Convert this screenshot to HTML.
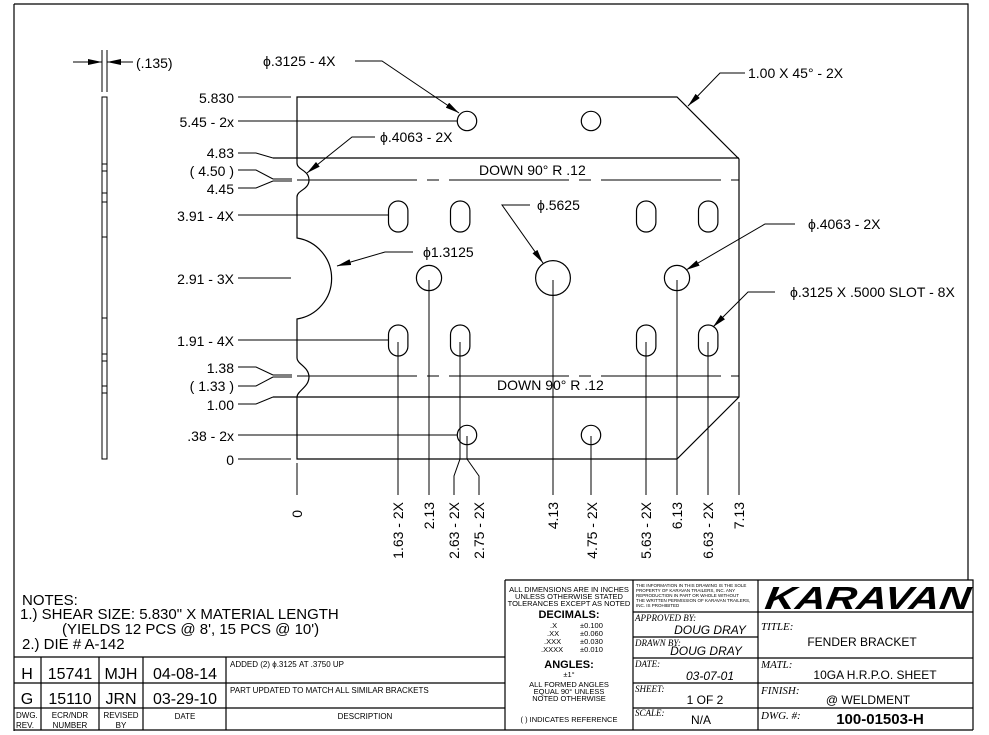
<!DOCTYPE html>
<html><head><meta charset="utf-8"><style>
html,body{margin:0;padding:0;background:#fff}
svg{display:block}
text{font-family:"Liberation Sans","DejaVu Sans",sans-serif;fill:#000}
</style></head><body>
<svg width="989" height="735" viewBox="0 0 989 735" xmlns="http://www.w3.org/2000/svg">
<defs>
<marker id="ar" markerWidth="14" markerHeight="6" refX="14" refY="3" orient="auto" markerUnits="userSpaceOnUse"><path d="M0 0 L14 3 L0 6 Z" fill="#000"/></marker>
</defs>
<g fill="none" stroke="#000" stroke-width="1.2">
<path d="M14 4 H968 V580 M14 4 V731"/>
<path d="M297 97 H677 L739 159 V397 L677 459 H297 V397 C297 391 309 387 309 377 C309 367 297 364 297 358 V319 A41 41 0 0 0 297 238 V197 C297 190 309 190 309 180 C309 170 297 170 297 163 Z"/>
<path d="M273 158 H739 M273 397 H739"/>
<path d="M273 179 H292 M273 181 H292 M273 375 H292 M273 377 H292" stroke-width="1"/>
<path d="M297 180 H739 M297 376 H739" stroke-dasharray="120,10,12,10" stroke-width="1"/>
<circle cx="467" cy="121" r="9.7"/><circle cx="591" cy="121" r="9.7"/>
<circle cx="467" cy="435" r="9.7"/><circle cx="591" cy="435" r="9.7"/>
<circle cx="429" cy="278" r="12.6"/><circle cx="677" cy="278" r="12.6"/>
<circle cx="553" cy="278" r="17.4"/>
<rect x="388.5" y="201" width="19.4" height="31" rx="9.7"/>
<rect x="450.5" y="201" width="19.4" height="31" rx="9.7"/>
<rect x="636.5" y="201" width="19.4" height="31" rx="9.7"/>
<rect x="698.5" y="201" width="19.4" height="31" rx="9.7"/>
<rect x="388.5" y="325" width="19.4" height="31" rx="9.7"/>
<rect x="450.5" y="325" width="19.4" height="31" rx="9.7"/>
<rect x="636.5" y="325" width="19.4" height="31" rx="9.7"/>
<rect x="698.5" y="325" width="19.4" height="31" rx="9.7"/>
</g>
<g fill="none" stroke="#000" stroke-width="1">
<path d="M238 97 H291 M238 121 H457 M238 153 H256 L273 158 M238 170 H256 L273 179 M238 188 H256 L273 181 M238 215 H388 M238 278 H291 M238 340 H388 M238 367 H256 L273 375 M238 386 H256 L273 377 M238 404 H256 L273 397 M238 435 H457 M238 459 H291"/>
<path d="M297 463 V495 M398 342 V495 M429 280 V495 M460 342 V459 L454 476 V495 M467 436 V459 L479 476 V495 M553 280 V495 M591 436 V495 M646 342 V495 M677 280 V495 M708 342 V495 M739 402 V495"/>
<path d="M355 61 H382 L459 113" marker-end="url(#ar)"/>
<path d="M375 137 H352 L307 173" marker-end="url(#ar)"/>
<path d="M413 252 H385 L337 266" marker-end="url(#ar)"/>
<path d="M530 205 H502 L543 263" marker-end="url(#ar)"/>
<path d="M795 224 H765 L686 270" marker-end="url(#ar)"/>
<path d="M775 292 H748 L713 327" marker-end="url(#ar)"/>
<path d="M745 73 H720 L688 106" marker-end="url(#ar)"/>
<rect x="102" y="97" width="5" height="362"/>
<path d="M102 164 H107 M102 171 H107 M102 193 H107 M102 202 H107 M102 237 H107 M102 318 H107 M102 354 H107 M102 361 H107 M102 386 H107 M102 393 H107"/>
<path d="M102 50 V92 M107 50 V92"/>
<path d="M73 62 H102" marker-end="url(#ar)"/>
<path d="M133 62 H107" marker-end="url(#ar)"/>
</g>
<g font-size="14" text-anchor="end">
<text x="234" y="103">5.830</text>
<text x="234" y="127">5.45 - 2x</text>
<text x="234" y="158">4.83</text>
<text x="234" y="176">( 4.50 )</text>
<text x="234" y="194">4.45</text>
<text x="234" y="221">3.91 - 4X</text>
<text x="234" y="284">2.91 - 3X</text>
<text x="234" y="346">1.91 - 4X</text>
<text x="234" y="373">1.38</text>
<text x="234" y="391">( 1.33 )</text>
<text x="234" y="410">1.00</text>
<text x="234" y="441">.38 - 2x</text>
<text x="234" y="465">0</text>
</g>
<g font-size="14">
<text x="136" y="68">(.135)</text>
<text x="263" y="66">ϕ.3125 - 4X</text>
<text x="380" y="142">ϕ.4063 - 2X</text>
<text x="423" y="257">ϕ1.3125</text>
<text x="537" y="210">ϕ.5625</text>
<text x="808" y="229">ϕ.4063 - 2X</text>
<text x="790" y="297">ϕ.3125 X .5000 SLOT - 8X</text>
<text x="748" y="78">1.00 X 45° - 2X</text>
<text x="479" y="175">DOWN  90°  R .12</text>
<text x="497" y="390">DOWN  90°  R .12</text>
</g>
<g font-size="14">
<text transform="translate(302,510) rotate(-90)" text-anchor="end">0</text>
<text transform="translate(403,502) rotate(-90)" text-anchor="end">1.63 - 2X</text>
<text transform="translate(434,502) rotate(-90)" text-anchor="end">2.13</text>
<text transform="translate(459,502) rotate(-90)" text-anchor="end">2.63 - 2X</text>
<text transform="translate(484,502) rotate(-90)" text-anchor="end">2.75 - 2X</text>
<text transform="translate(558,502) rotate(-90)" text-anchor="end">4.13</text>
<text transform="translate(597,502) rotate(-90)" text-anchor="end">4.75 - 2X</text>
<text transform="translate(651,502) rotate(-90)" text-anchor="end">5.63 - 2X</text>
<text transform="translate(682,502) rotate(-90)" text-anchor="end">6.13</text>
<text transform="translate(713,502) rotate(-90)" text-anchor="end">6.63 - 2X</text>
<text transform="translate(744,502) rotate(-90)" text-anchor="end">7.13</text>
</g>
<g font-size="15">
<text x="22" y="605">NOTES:</text>
<text x="20" y="619">1.) SHEAR SIZE:  5.830" X MATERIAL LENGTH</text>
<text x="62" y="634">(YIELDS 12 PCS @ 8', 15 PCS @ 10')</text>
<text x="22" y="649">2.) DIE # A-142</text>
</g>
<g fill="none" stroke="#000" stroke-width="1.2">
<path d="M14 657 H505 M14 683 H505 M14 708 H505 M14 730 H973"/>
<path d="M41 657 V730 M99 657 V730 M143 657 V730 M226 657 V730"/>
<path d="M505 580 H973 V730 M505 580 V730 M633 580 V730 M758 580 V730"/>
<path d="M633 612 H973 M633 637 H758 M633 658 H973 M633 683 H973 M633 708 H973"/>
</g>
<g font-size="16" text-anchor="middle">
<text x="27" y="679">H</text><text x="70" y="679">15741</text><text x="121" y="679">MJH</text><text x="185" y="679">04-08-14</text>
<text x="27" y="704">G</text><text x="70" y="704">15110</text><text x="121" y="704">JRN</text><text x="185" y="704">03-29-10</text>
</g>
<g font-size="8">
<text x="230" y="667">ADDED (2) ϕ.3125 AT .3750 UP</text>
<text x="230" y="693">PART UPDATED TO MATCH ALL SIMILAR BRACKETS</text>
<text x="16" y="718">DWG.</text><text x="16" y="728">REV.</text>
<g text-anchor="middle">
<text x="70" y="718">ECR/NDR</text><text x="70" y="728">NUMBER</text>
<text x="121" y="718">REVISED</text><text x="121" y="728">BY</text>
<text x="185" y="719">DATE</text>
<text x="365" y="719">DESCRIPTION</text>
</g>
</g>
<g font-size="7.5" text-anchor="middle">
<text x="569" y="592">ALL DIMENSIONS ARE IN INCHES</text>
<text x="569" y="599">UNLESS OTHERWISE STATED</text>
<text x="569" y="606">TOLERANCES EXCEPT AS NOTED</text>
<text x="569" y="618" font-size="11" font-weight="bold">DECIMALS:</text>
<text x="569" y="668" font-size="11" font-weight="bold">ANGLES:</text>
<text x="569" y="677">±1°</text>
<text x="569" y="687">ALL FORMED ANGLES</text>
<text x="569" y="694">EQUAL 90° UNLESS</text>
<text x="569" y="701">NOTED OTHERWISE</text>
<text x="569" y="722">(  )  INDICATES REFERENCE</text>
</g>
<g font-size="7.5">
<text x="550" y="628">.X</text><text x="580" y="628">±0.100</text>
<text x="547" y="636">.XX</text><text x="580" y="636">±0.060</text>
<text x="544" y="644">.XXX</text><text x="580" y="644">±0.030</text>
<text x="541" y="652">.XXXX</text><text x="580" y="652">±0.010</text>
</g>
<g font-size="4.5">
<text x="636" y="587">THE INFORMATION IN THIS DRAWING IS THE SOLE</text>
<text x="636" y="592">PROPERTY OF KARAVAN TRAILERS, INC. ANY</text>
<text x="636" y="597">REPRODUCTION IN PART OR WHOLE WITHOUT</text>
<text x="636" y="602">THE WRITTEN PERMISSION OF KARAVAN TRAILERS,</text>
<text x="636" y="607">INC. IS PROHIBITED</text>
</g>
<g font-size="9" font-style="italic">
<text x="635" y="621" style="font-family:'Liberation Serif',serif">APPROVED BY:</text>
<text x="635" y="646" style="font-family:'Liberation Serif',serif">DRAWN BY:</text>
<text x="635" y="667" style="font-family:'Liberation Serif',serif">DATE:</text>
<text x="635" y="692" style="font-family:'Liberation Serif',serif">SHEET:</text>
<text x="635" y="716" style="font-family:'Liberation Serif',serif">SCALE:</text>
<text x="761" y="630" font-size="11" style="font-family:'Liberation Serif',serif">TITLE:</text>
<text x="761" y="668" font-size="11" style="font-family:'Liberation Serif',serif">MATL:</text>
<text x="761" y="694" font-size="11" style="font-family:'Liberation Serif',serif">FINISH:</text>
<text x="761" y="719" font-size="11" style="font-family:'Liberation Serif',serif">DWG. #:</text>
</g>
<g font-size="12" font-style="italic" text-anchor="middle">
<text x="710" y="634">DOUG DRAY</text>
<text x="706" y="655">DOUG DRAY</text>
<text x="710" y="680">03-07-01</text>
</g>
<g font-size="12" text-anchor="middle">
<text x="705" y="704">1 OF 2</text>
<text x="701" y="724">N/A</text>
<text x="862" y="646">FENDER BRACKET</text>
<text x="875" y="679">10GA H.R.P.O. SHEET</text>
<text x="868" y="704">@ WELDMENT</text>
<text x="880" y="724" font-size="15" font-weight="bold">100-01503-H</text>
</g>
<text x="866" y="609" font-size="32" font-weight="bold" font-style="italic" text-anchor="middle" textLength="205" lengthAdjust="spacingAndGlyphs" transform="translate(86,0) skewX(-8)">KARAVAN</text>
</svg>
</body></html>
